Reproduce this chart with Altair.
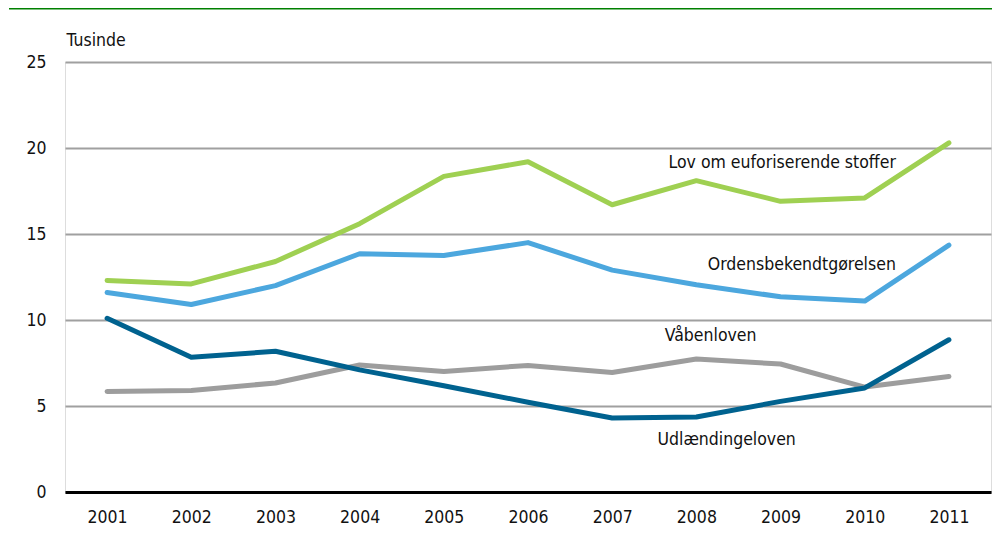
import altair as alt
import pandas as pd

years = list(range(2001, 2012))
euforiserende = [12.3, 12.1, 13.4, 15.6, 18.35, 19.2, 16.7, 18.1, 16.9, 17.1, 20.3]
ordens = [11.6, 10.9, 12.0, 13.85, 13.75, 14.5, 12.9, 12.05, 11.35, 11.1, 14.35]
udlaending = [10.1, 7.83, 8.18, 7.1, 6.18, 5.22, 4.3, 4.36, 5.27, 6.05, 8.85]
vaaben = [5.85, 5.9, 6.34, 7.38, 7.01, 7.36, 6.95, 7.73, 7.44, 6.1, 6.72]

series_names = ["Lov om euforiserende stoffer", "Ordensbekendtgørelsen", "Våbenloven", "Udlændingeloven"]
series_values = [euforiserende, ordens, vaaben, udlaending]
series_colors = ["#9fd052", "#4ca7de", "#9d9d9d", "#00628f"]

label_x = [2010.37, 2010.37, 2008.17, 2008.36]
label_y = [19.15, 13.2, 9.05, 3.05]
label_align = ["right", "right", "center", "center"]

rows = []
for name, vals in zip(series_names, series_values):
    for yr, v in zip(years, vals):
        rows.append({"year": yr, "value": v, "series": name})
df = pd.DataFrame(rows)

labels_df = pd.DataFrame({"x": label_x, "y": label_y, "text": series_names, "align": label_align})

FONT = "Liberation Sans Narrow, DejaVu Sans Condensed, Roboto, sans-serif"

xscale = alt.Scale(domain=[2000.5, 2011.5], nice=False, zero=False)
yscale = alt.Scale(domain=[0, 25], nice=False)

lines = alt.Chart(df).mark_line(strokeWidth=5, strokeCap="round", strokeJoin="round").encode(
    x=alt.X("year:Q", scale=xscale,
            axis=alt.Axis(values=years, format="d", title=None, grid=False, ticks=False,
                          domain=True, domainColor="black", domainWidth=3,
                          labelFont=FONT, labelFontSize=17.5, labelColor="#111111",
                          labelPadding=16)),
    y=alt.Y("value:Q", scale=yscale,
            axis=alt.Axis(values=[0, 5, 10, 15, 20, 25], title="Tusinde", titleAngle=0,
                          titleAlign="left", titleBaseline="middle", titleX=1, titleY=-22,
                          titleFont=FONT, titleFontSize=17.5, titleFontWeight="normal",
                          titleColor="#111111",
                          grid=True, gridColor="#a0a0a0", gridWidth=2, ticks=False,
                          domain=False, labelFont=FONT, labelFontSize=17.5,
                          labelColor="#111111", labelPadding=19)),
    color=alt.Color("series:N", scale=alt.Scale(domain=series_names, range=series_colors), legend=None),
)

def label_layer(align):
    sub = labels_df[labels_df["align"] == align]
    return alt.Chart(sub).mark_text(font=FONT, fontSize=17.5, color="#111111",
                                    align=align, baseline="middle").encode(
        x=alt.X("x:Q", scale=xscale),
        y=alt.Y("y:Q", scale=yscale),
        text="text:N",
    )

top_rule = alt.Chart(pd.DataFrame({"a": [0]})).mark_rule(color="#008000", strokeWidth=3).encode(
    x=alt.value(-56), x2=alt.value(940), y=alt.value(-54)
)

chart = alt.layer(lines, label_layer("right"), label_layer("center"), top_rule).properties(
    width=926, height=430,
    padding={"left": 57, "top": 54, "right": 1, "bottom": 40},
    autosize=alt.AutoSizeParams(type="none"),
).configure_view(stroke=None).configure(background="white")

chart.save("out.html", embed_options={"renderer": "svg", "actions": False})
